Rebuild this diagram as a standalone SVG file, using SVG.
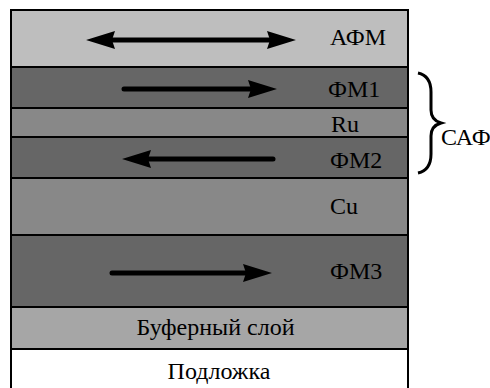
<svg xmlns="http://www.w3.org/2000/svg" width="490" height="388" viewBox="0 0 490 388">
<style>
.layer{stroke:#000;stroke-width:2}
.lbl{font-family:'Liberation Serif','Times New Roman',serif;font-size:24px;fill:#000}
.arr{stroke:#000;stroke-width:5;stroke-linecap:round;fill:none}
</style>
<defs>
<marker id="head" markerUnits="userSpaceOnUse" markerWidth="30" markerHeight="18" refX="3" refY="9" orient="auto-start-reverse" viewBox="0 0 30 18" overflow="visible">
<path d="M0,0 L29,9 L0,18 L3,9 Z" fill="#000"/>
</marker>
</defs>
<rect width="490" height="388" fill="#fff"/>
<g id="afm"><rect class="layer" x="11" y="10" width="397" height="57" fill="#bebebe"/><text class="lbl" x="330" y="45">АФМ</text></g>
<g id="fm1"><rect class="layer" x="11" y="67" width="397" height="41" fill="#666"/><text class="lbl" x="328" y="97">ФМ1</text></g>
<g id="ru"><rect class="layer" x="11" y="108" width="397" height="29" fill="#888"/><text class="lbl" x="331" y="132">Ru</text></g>
<g id="fm2"><rect class="layer" x="11" y="137" width="397" height="41" fill="#666"/><text class="lbl" x="330" y="168">ФМ2</text></g>
<g id="cu"><rect class="layer" x="11" y="178" width="397" height="57" fill="#888"/><text class="lbl" x="330" y="214">Cu</text></g>
<g id="fm3"><rect class="layer" x="11" y="235" width="397" height="72" fill="#666"/><text class="lbl" x="330" y="279">ФМ3</text></g>
<g id="buffer"><rect class="layer" x="11" y="307" width="397" height="42" fill="#a6a6a6"/><text class="lbl" x="215.5" y="335" text-anchor="middle">Буферный слой</text></g>
<g id="substrate"><rect class="layer" x="11" y="349" width="397" height="45" fill="#fff"/><text class="lbl" x="219" y="379" text-anchor="middle">Подложка</text></g>
<g id="saf"><path d="M418,73 C427,75 431,82 431,92 L431,110 C431,117 434,121 441,123 C434,125 431,129 431,136 L431,154 C431,164 427,171 418,173" fill="none" stroke="#000" stroke-width="3"/><text class="lbl" x="441" y="145">САФ</text></g>
<g id="connectors">
<line class="arr" x1="112" y1="40" x2="270" y2="40" stroke-linecap="butt" marker-start="url(#head)" marker-end="url(#head)"/>
<line class="arr" x1="124" y1="89" x2="251" y2="89" marker-end="url(#head)"/>
<line class="arr" x1="273" y1="159" x2="148" y2="159" marker-end="url(#head)"/>
<line class="arr" x1="112" y1="273" x2="246" y2="273" marker-end="url(#head)"/>
</g>
</svg>
